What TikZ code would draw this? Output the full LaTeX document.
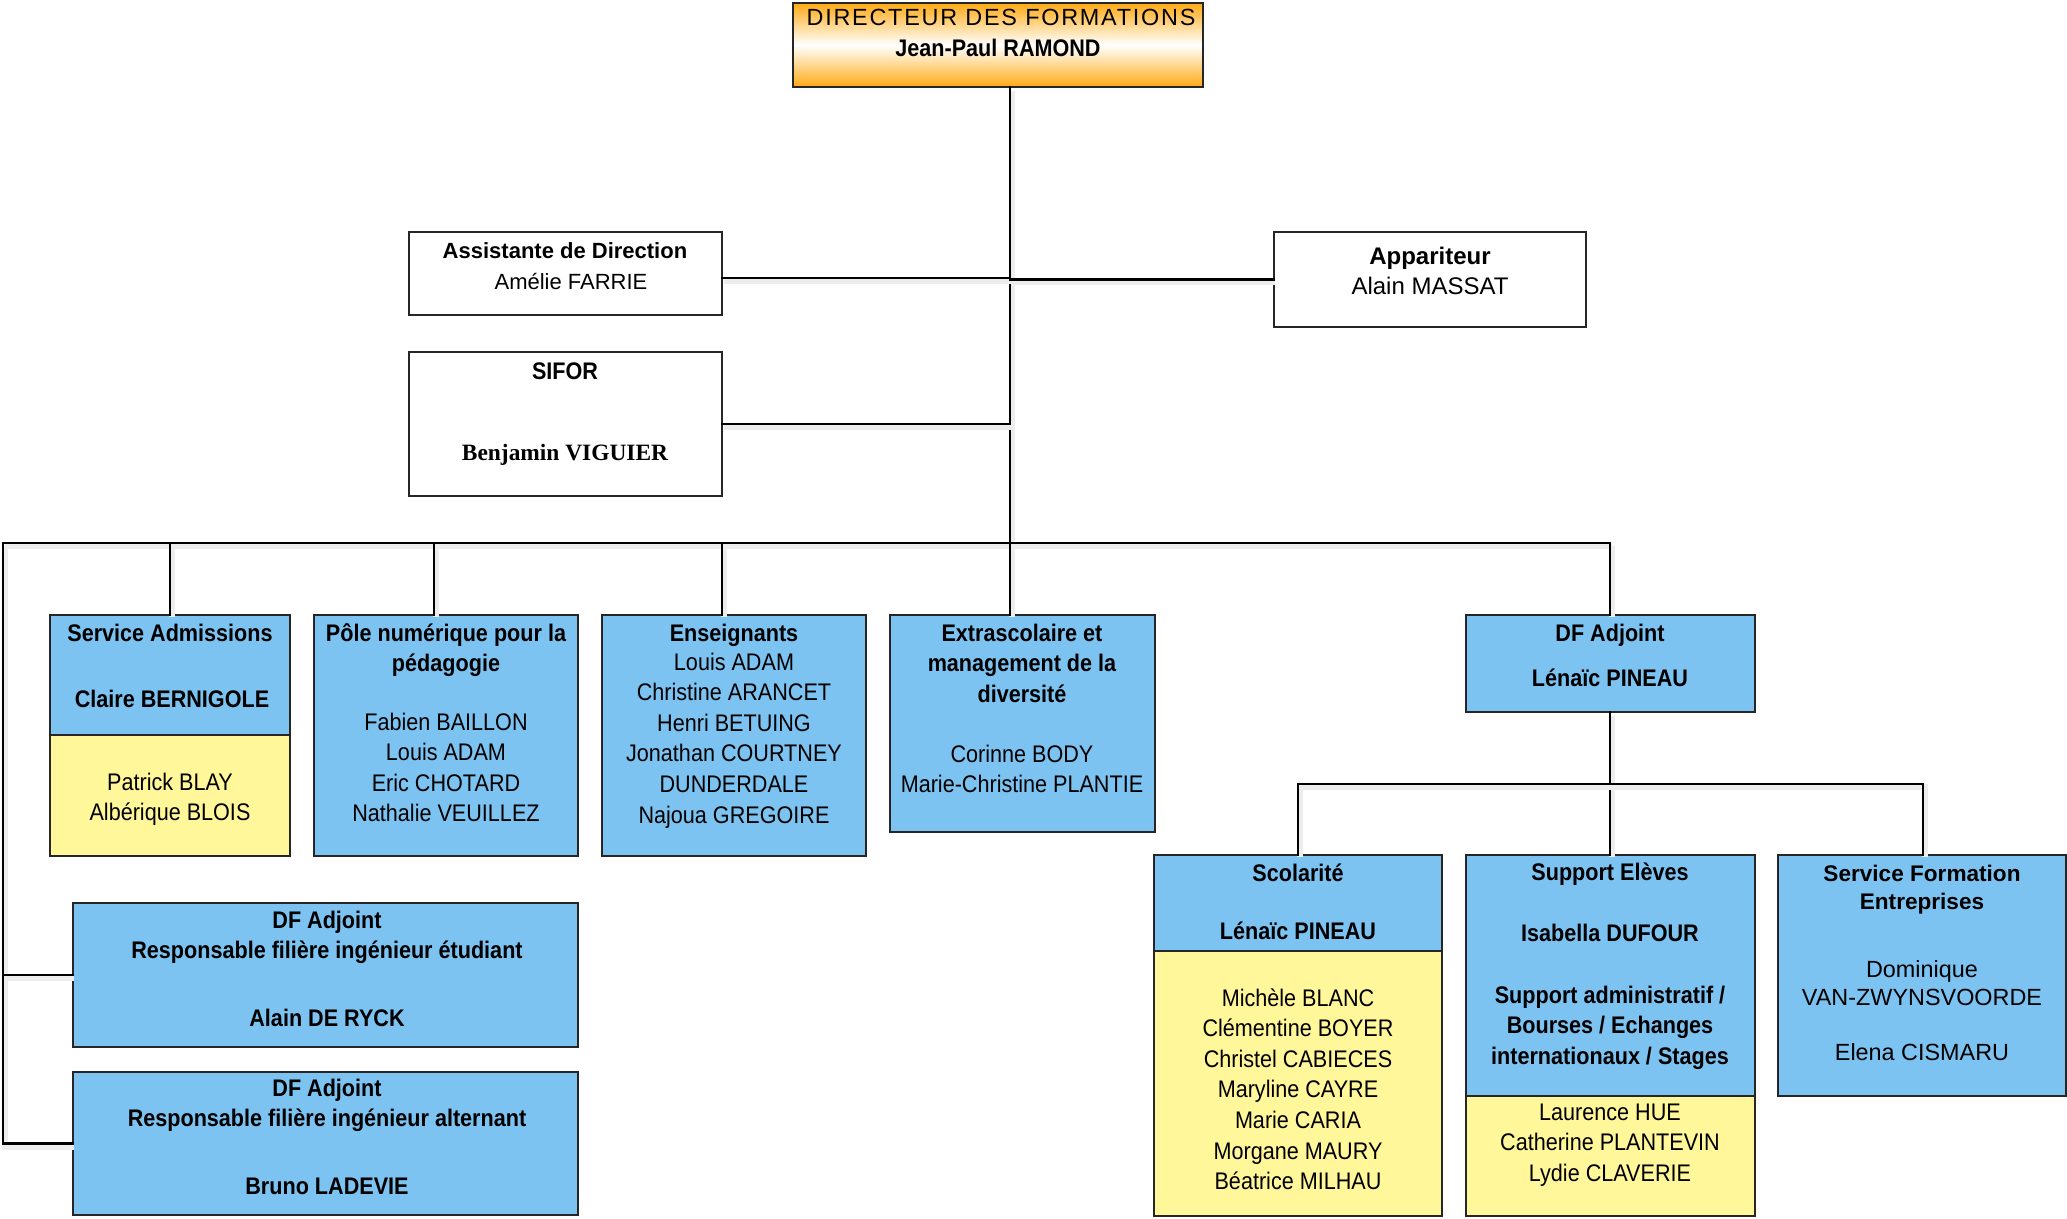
\documentclass[tikz,border=0pt]{standalone}
\usepackage{fontspec}
\setmainfont{Liberation Sans}
\newfontfamily\nar{Liberation Sans}[FakeStretch=0.9]
\newfontfamily\spc{Liberation Sans}[LetterSpace=7.5]
\newfontfamily\tms{Liberation Serif}
\definecolor{boxblue}{RGB}{124,195,242}
\definecolor{boxyellow}{RGB}{255,247,153}
\definecolor{dirorange}{RGB}{255,170,20}
\tikzset{
  box/.style={draw=black!85, line width=0.8pt, inner sep=0pt},
  bluebox/.style={box, fill=boxblue},
  yellowbox/.style={box, fill=boxyellow},
  whitebox/.style={box, fill=white},
  nt/.style={font=\nar\fontsize{12}{15.3}\selectfont, align=center, anchor=base, inner sep=0pt},
  ntb/.style={font=\nar\bfseries\fontsize{12}{15.3}\selectfont, align=center, anchor=base, inner sep=0pt},
  conn/.style={line width=1.35pt, line cap=rect,
    preaction={draw=black!7, line width=3pt, transform canvas={xshift=0.8pt, yshift=-1.5pt}}},
}
\begin{document}
\begin{tikzpicture}[x=0.5pt,y=-0.5pt]
\useasboundingbox (0,0) rectangle (2067,1219);

% junction coordinates
\coordinate (bl) at (3,543);
\coordinate (b1) at (170,543);
\coordinate (b2) at (434,543);
\coordinate (b3) at (722,543);
\coordinate (t1) at (1010,543);
\coordinate (b5) at (1610,543);
\coordinate (s1) at (1298,784);
\coordinate (s3) at (1923,784);

% boxes
\node[box, top color=dirorange, bottom color=dirorange, middle color=white, minimum width=205pt, minimum height=42pt] (dir) at (998,45) {};
\node[whitebox, minimum width=156.5pt, minimum height=41.5pt] (asst) at (565.5,273.5) {};
\node[whitebox, minimum width=156.5pt, minimum height=72pt] (sifor) at (565.5,424) {};
\node[whitebox, minimum width=156pt, minimum height=47.5pt] (app) at (1430,279.5) {};

\node[bluebox, minimum width=120pt, minimum height=60pt] (sa) at (170,675) {};
\node[yellowbox, minimum width=120pt, minimum height=60.5pt] (say) at (170,795.5) {};
\node[bluebox, minimum width=132pt, minimum height=120.5pt] (pole) at (446,735.5) {};
\node[bluebox, minimum width=132pt, minimum height=120.5pt] (ens) at (734,735.5) {};
\node[bluebox, minimum width=132.5pt, minimum height=108.5pt] (ext) at (1022.5,723.5) {};
\node[bluebox, minimum width=144.5pt, minimum height=48.5pt] (dfa) at (1610.5,663.5) {};

\node[bluebox, minimum width=144pt, minimum height=48pt] (sco) at (1298,903) {};
\node[yellowbox, minimum width=144pt, minimum height=132.5pt] (scoy) at (1298,1083.5) {};
\node[bluebox, minimum width=144.5pt, minimum height=120.5pt] (sup) at (1610.5,975.5) {};
\node[yellowbox, minimum width=144.5pt, minimum height=60pt] (supy) at (1610.5,1156) {};
\node[bluebox, minimum width=144pt, minimum height=120.5pt] (sfe) at (1922,975.5) {};

\node[bluebox, minimum width=252.5pt, minimum height=72pt] (dfe) at (325.5,975) {};
\node[bluebox, minimum width=252.5pt, minimum height=71.5pt] (dfalt) at (325.5,1143.5) {};

% connectors
\draw[conn] (dir.south -| t1) -- (t1);
\draw[conn] ([yshift=-2.25pt]asst.east) -- ([yshift=-2.25pt]asst.east -| t1);
\draw[conn] (sifor.east) -- (sifor.east -| t1);
\draw[conn] (app.west) -- (app.west -| t1);
\draw[conn] (bl) -- (b5);
\draw[conn] (b1) -- (sa.north);
\draw[conn] (b2) -- (b2 |- pole.north);
\draw[conn] (b3) -- (b3 |- ens.north);
\draw[conn] (t1) -- (t1 |- ext.north);
\draw[conn] (b5) -- (b5 |- dfa.north);
\draw[conn] (bl) -- (bl |- dfalt.west) -- (dfalt.west);
\draw[conn] (bl |- dfe.west) -- (dfe.west);
\draw[conn] (dfa.south -| b5) -- (b5 |- sup.north);
\draw[conn] (s1 |- sco.north) -- (s1) -- (s3) -- (s3 |- sfe.north);

% texts (multi-line nodes are placed by the baseline of their last line)
\node[anchor=base, inner sep=0pt, font=\spc\fontsize{11.7}{14}\selectfont] (dirt1) at (1001,26) {DIRECTEUR DES FORMATIONS};
\node[ntb] (dirt2) at (998,57) {Jean-Paul RAMOND};

\node[anchor=base, inner sep=0pt, font=\bfseries\fontsize{11}{14}\selectfont] (asstt1) at (565,259) {Assistante de Direction};
\node[anchor=base, inner sep=0pt, font=\fontsize{11}{14}\selectfont] (asstt2) at (571,290) {Amélie FARRIE};

\node[ntb] (sifort1) at (565,380) {SIFOR};
\node[anchor=base, inner sep=0pt, font=\tms\bfseries\fontsize{11.7}{14}\selectfont] (sifort2) at (565,461) {Benjamin VIGUIER};

\node[anchor=base, inner sep=0pt, font=\bfseries\fontsize{12}{15}\selectfont] (appt1) at (1430,265) {Appariteur};
\node[anchor=base, inner sep=0pt, font=\fontsize{12}{15}\selectfont] (appt2) at (1430,295) {Alain MASSAT};

\node[ntb] (sat1) at (170,641) {Service Admissions};
\node[ntb] (sat2) at (172,707) {Claire BERNIGOLE};
\node[nt] (sayt) at (170,820.6) {Patrick BLAY\\Albérique BLOIS};

\node[ntb] (polet1) at (446,671.6) {Pôle numérique pour la\\pédagogie};
\node[nt] (polet2) at (446,821.8) {Fabien BAILLON\\Louis ADAM\\Eric CHOTARD\\Nathalie VEUILLEZ};

\node[ntb] (enst1) at (734,641) {Enseignants};
\node[nt] (enst2) at (734,823) {Louis ADAM\\Christine ARANCET\\Henri BETUING\\Jonathan COURTNEY\\DUNDERDALE\\Najoua GREGOIRE};

\node[ntb] (extt1) at (1022,702.2) {Extrascolaire et\\management de la\\diversité};
\node[nt] (extt2) at (1022,792.6) {Corinne BODY\\Marie-Christine PLANTIE};

\node[ntb] (dfat1) at (1610,641) {DF Adjoint};
\node[ntb] (dfat2) at (1610,686) {Lénaïc PINEAU};

\node[ntb] (scot1) at (1298,881) {Scolarité};
\node[ntb] (scot2) at (1298,939) {Lénaïc PINEAU};
\node[nt] (scoyt) at (1298,1189.6) {Michèle BLANC\\Clémentine BOYER\\Christel CABIECES\\Maryline CAYRE\\Marie CARIA\\Morgane MAURY\\Béatrice MILHAU};

\node[ntb] (supt1) at (1610,880) {Support Elèves};
\node[ntb] (supt2) at (1610,941) {Isabella DUFOUR};
\node[ntb] (supt3) at (1610,1064.2) {Support administratif /\\Bourses / Echanges\\internationaux / Stages};
\node[nt] (supyt) at (1610,1181.2) {Laurence HUE\\Catherine PLANTEVIN\\Lydie CLAVERIE};

\node[anchor=base, align=center, inner sep=0pt, font=\bfseries\fontsize{11.3}{14.2}\selectfont] (sfet1) at (1922,909.4) {Service Formation\\Entreprises};
\node[anchor=base, align=center, inner sep=0pt, font=\fontsize{11.7}{14.2}\selectfont] (sfet2) at (1922,1005.4) {Dominique\\VAN-ZWYNSVOORDE};
\node[anchor=base, align=center, inner sep=0pt, font=\fontsize{11.7}{14.2}\selectfont] (sfet3) at (1922,1060) {Elena CISMARU};

\node[ntb] (dfet1) at (327,958.6) {DF Adjoint\\Responsable filière ingénieur étudiant};
\node[ntb] (dfet2) at (327,1026) {Alain DE RYCK};
\node[ntb] (dfaltt1) at (327,1126.6) {DF Adjoint\\Responsable filière ingénieur alternant};
\node[ntb] (dfaltt2) at (327,1194) {Bruno LADEVIE};
\end{tikzpicture}
\end{document}
